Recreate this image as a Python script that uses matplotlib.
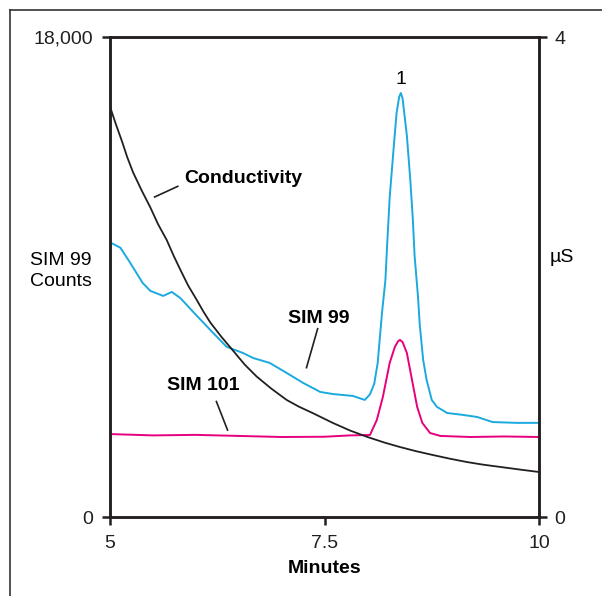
import matplotlib.pyplot as plt
from matplotlib.lines import Line2D

plt.rcParams['font.family'] = ['Liberation Sans', 'DejaVu Sans']

# conductivity trace (right axis, uS)
cond_min = [5.00, 5.07, 5.14, 5.20, 5.27, 5.37, 5.47, 5.56, 5.66, 5.74, 5.82,
            5.91, 6.01, 6.09, 6.17, 6.30, 6.43, 6.57, 6.71, 6.88, 7.06, 7.20,
            7.36, 7.60, 7.80, 8.00, 8.20, 8.38, 8.57, 8.76, 8.96, 9.16, 9.35,
            9.55, 9.78, 10.0]
cond_us = [3.42, 3.27, 3.13, 3.00, 2.87, 2.72, 2.58, 2.44, 2.31, 2.18, 2.06,
           1.93, 1.81, 1.71, 1.62, 1.50, 1.39, 1.27, 1.17, 1.07, 0.975, 0.92,
           0.867, 0.783, 0.72, 0.667, 0.62, 0.583, 0.548, 0.517, 0.486, 0.458, 0.436,
           0.417, 0.395, 0.375]

# SIM 99 trace (left axis, counts)
sim99_min = [5.00, 5.12, 5.23, 5.38, 5.47, 5.62, 5.72, 5.82, 5.97, 6.17, 6.36,
             6.55, 6.67, 6.86, 7.06, 7.25, 7.45, 7.60, 7.83, 7.97, 8.03, 8.08,
             8.12, 8.17, 8.21, 8.23, 8.26, 8.30, 8.34, 8.37, 8.39, 8.41, 8.46, 8.50,
             8.53, 8.55, 8.59, 8.61, 8.65, 8.69, 8.75, 8.81, 8.93, 9.11, 9.28,
             9.46, 9.74, 10.0]
sim99 = [10300, 10100, 9560, 8780, 8480, 8290, 8440, 8210, 7690, 7010, 6380,
         6150, 5960, 5780, 5400, 5030, 4690, 4610, 4540, 4390, 4600, 5000,
         5780, 7650, 8890, 10200, 12000, 13600, 15150, 15750, 15900, 15700, 14300, 12640,
         11140, 9800, 8250, 7210, 5890, 5140, 4390, 4130, 3900, 3830, 3750,
         3560, 3530, 3530]

# SIM 101 trace (left axis, counts)
sim101_min = [5.0, 5.5, 6.0, 6.5, 7.0, 7.5, 7.8, 8.03, 8.11, 8.18, 8.26, 8.32,
              8.36, 8.38, 8.41, 8.46, 8.52, 8.58, 8.64, 8.73, 8.85, 9.2, 9.6, 10.0]
sim101 = [3110, 3060, 3080, 3040, 3000, 3010, 3060, 3075, 3640, 4500, 5780, 6380,
          6600, 6640, 6560, 6150, 5140, 4130, 3530, 3150, 3040, 3000, 3020, 3000]

black = '#231f20'
blue = '#1aaadf'
pink = '#e6007e'
fs = 14

fig = plt.figure(figsize=(6.02, 5.96), dpi=100)
W, H = 602, 596
ax = fig.add_axes([110 / W, 1 - 517 / H, 429 / W, 480 / H])
ax2 = ax.twinx()

ax.plot(sim99_min, sim99, color=blue, lw=1.4, solid_joinstyle='round')
ax.plot(sim101_min, sim101, color=pink, lw=1.4, solid_joinstyle='round')
ax2.plot(cond_min, cond_us, color=black, lw=1.3, solid_joinstyle='round')

ax.set_xlim(5, 10)
ax.set_ylim(0, 18000)
ax2.set_ylim(0, 4)
ax.set_xticks([5, 7.5, 10])
ax.set_xticklabels(['5', '7.5', '10'])
ax.set_yticks([0, 18000])
ax.set_yticklabels(['0', '18,000'])
ax2.set_yticks([0, 4])
ax2.set_yticklabels(['0', '4'])

for a in (ax, ax2):
    for s in a.spines.values():
        s.set_linewidth(1.8)
        s.set_color(black)
    a.tick_params(direction='out', length=6, width=1.8, color=black,
                  labelsize=fs, labelcolor=black)
ax.tick_params(axis='y', pad=6)
ax.tick_params(axis='x', pad=7)
ax2.tick_params(axis='y', pad=5)

ax.set_xlabel('Minutes', fontsize=fs, fontweight='bold', labelpad=6)

fig.text(61 / W, 1 - 271 / H, 'SIM 99\nCounts', ha='center', va='center',
         fontsize=fs, linespacing=1.35)
fig.text(562 / W, 1 - 257 / H, 'µS', ha='center', va='center', fontsize=fs)

# annotations
ax.text(8.39, 16390, '1', ha='center', va='center', fontsize=fs)
ax.text(5.87, 12700, 'Conductivity', fontsize=fs, fontweight='bold', va='center')
ax.plot([5.52, 5.79], [12000, 12400], color=black, lw=1.2)
ax.text(7.07, 7450, 'SIM 99', fontsize=fs, fontweight='bold', va='center')
ax.plot([7.42, 7.29], [7060, 5600], color=black, lw=1.2)
ax.text(5.67, 4930, 'SIM 101', fontsize=fs, fontweight='bold', va='center')
ax.plot([6.24, 6.37], [4330, 3260], color=black, lw=1.2)

# outer frame (left and top edges)
fig.add_artist(Line2D([9.5 / W, 9.5 / W], [0, 1 - 10 / H], transform=fig.transFigure,
                      color='#333333', lw=1.2))
fig.add_artist(Line2D([9.5 / W, 1], [1 - 10 / H, 1 - 10 / H], transform=fig.transFigure,
                      color='#333333', lw=1.2))

fig.savefig('out.png', dpi=100)
